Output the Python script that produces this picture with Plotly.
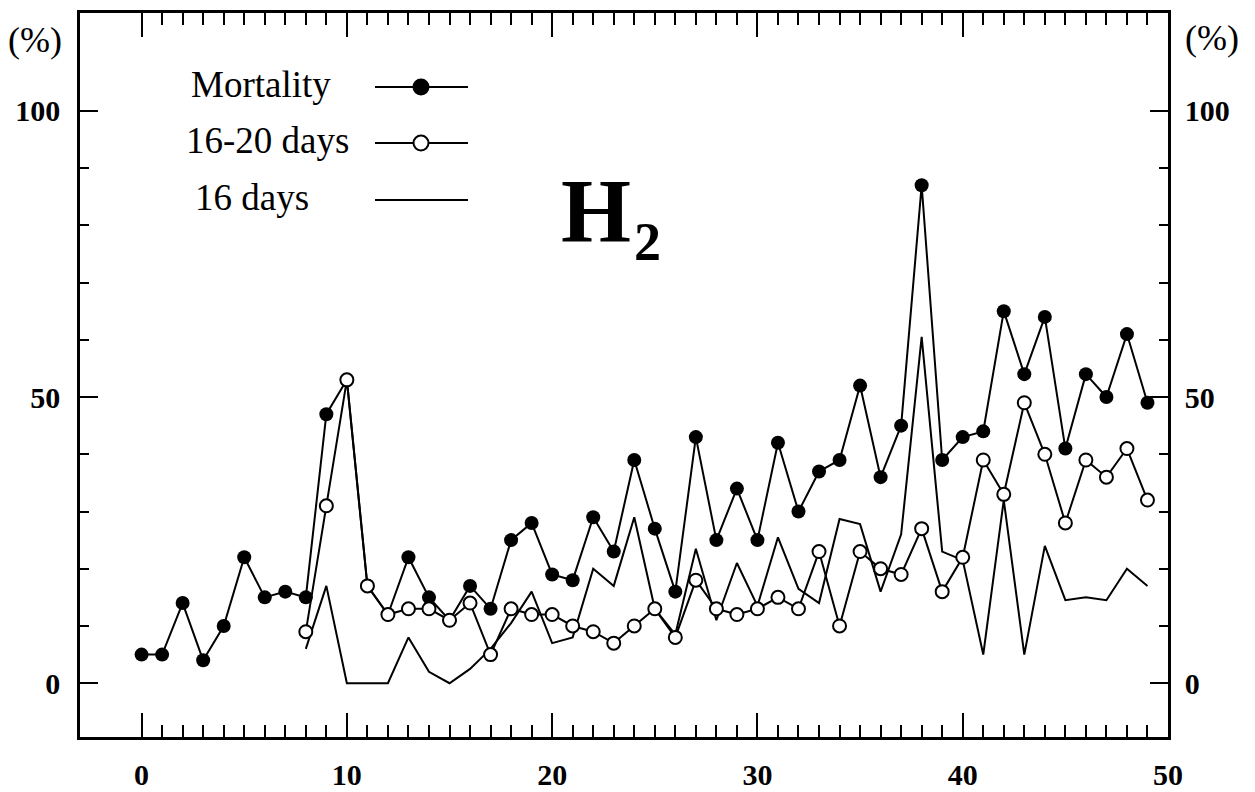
import plotly.graph_objects as go

# ---------------- data ----------------
days = list(range(0, 50))
mortality = [5, 5, 14, 4, 10, 22, 15, 16, 15, 47,
             53, 17, 12, 22, 15, 11, 17, 13, 25, 28,
             19, 18, 29, 23, 39, 27, 16, 43, 25, 34,
             25, 42, 30, 37, 39, 52, 36, 45, 87, 39,
             43, 44, 65, 54, 64, 41, 54, 50, 61, 49]

days_b = list(range(8, 50))
days_16_20 = [9, 31, 53, 17, 12, 13, 13, 11, 14, 5,
              13, 12, 12, 10, 9, 7, 10, 13, 8, 18,
              13, 12, 13, 15, 13, 23, 10, 23, 20, 19,
              27, 16, 22, 39, 33, 49, 40, 28, 39, 36,
              41, 32]
days_16 = [6, 17, 0, 0, 0, 8, 2, 0, 2.5, 6,
           10.5, 16, 7, 8, 20, 17, 29, 13, 8.5, 23.5,
           11, 21, 13.5, 25.5, 16.5, 14, 28.7, 27.8, 16, 26,
           60.5, 23, 21.5, 5, 32, 5, 24, 14.5, 15, 14.5,
           20, 17]

x_major = [0, 10, 20, 30, 40, 50]
x_minor = list(range(0, 51))
y_major = [0, 50, 100]
y_minor = [10, 20, 30, 40, 60, 70, 80, 90]
legend_names = ["Mortality", "16-20 days", "16 days"]

# ---------------- layout constants ----------------
# the page body adds an 8 px offset; the figure is sized so that it fills the window
OFF = 8
W, H = 1255 - OFF, 792 - OFF
# target frame on screen: left 80, right 1168, top 13, bottom 737
ML, MT = 80 - OFF, 13 - OFF
MR, MB = W - (1168 - OFF), H - (737 - OFF)
PW, PH = W - ML - MR, H - MT - MB
XR = [-3.0, 50.0]
YR = [-9.4, 117.1]
SERIF = "Liberation Serif, Times New Roman, serif"


def px(xs):
    """screen x pixel -> paper coordinate"""
    return (xs - OFF - ML) / PW


def py(ys):
    """screen y pixel -> paper coordinate"""
    return (H - MB - (ys - OFF)) / PH


fig = go.Figure()

fig.add_trace(go.Scatter(x=days_b, y=days_16, mode="lines",
                         line=dict(color="black", width=2),
                         showlegend=False, hoverinfo="skip"))
fig.add_trace(go.Scatter(x=days, y=mortality, mode="lines+markers",
                         line=dict(color="black", width=2),
                         marker=dict(symbol="circle", size=14, color="black"),
                         showlegend=False))
fig.add_trace(go.Scatter(x=days_b, y=days_16_20, mode="lines+markers",
                         line=dict(color="black", width=2),
                         marker=dict(symbol="circle", size=13, color="white",
                                     line=dict(color="black", width=2)),
                         showlegend=False))
# dummy trace to activate the top / right axes
fig.add_trace(go.Scatter(x=[None], y=[None], xaxis="x2", yaxis="y2",
                         showlegend=False, hoverinfo="skip"))

tickfont = dict(family=SERIF, size=30, color="black", weight="bold")

common_x = dict(range=XR, showgrid=False, zeroline=False, showline=True,
                linecolor="black", linewidth=2.5, ticks="inside",
                tickvals=x_major, ticklen=24, tickwidth=2, tickcolor="black",
                automargin=False,
                minor=dict(ticks="inside", tickmode="array", tickvals=x_minor,
                           ticklen=12, tickwidth=1.6, tickcolor="black",
                           showgrid=False))
common_y = dict(range=YR, showgrid=False, zeroline=False, showline=True,
                linecolor="black", linewidth=2.5, ticks="inside",
                tickvals=y_major, ticklen=18, tickwidth=2, tickcolor="black",
                automargin=False,
                minor=dict(ticks="inside", tickmode="array", tickvals=y_minor,
                           ticklen=9, tickwidth=1.6, tickcolor="black",
                           showgrid=False))

fig.update_layout(
    width=W, height=H,
    margin=dict(l=ML, r=MR, t=MT, b=MB, autoexpand=False),
    paper_bgcolor="white", plot_bgcolor="white",
    showlegend=False,
    xaxis=dict(**common_x, side="bottom", anchor="y", tickfont=tickfont,
               ticklabelstandoff=9),
    xaxis2=dict(**common_x, side="top", anchor="y", overlaying="x",
                showticklabels=False),
    yaxis=dict(**common_y, side="left", anchor="x", tickfont=tickfont,
               ticklabelstandoff=11),
    yaxis2=dict(**common_y, side="right", anchor="x", overlaying="y",
                tickfont=tickfont, ticklabelstandoff=8),
)

# (%) unit labels
for xs, ys in [(35, 40), (1212, 38)]:
    fig.add_annotation(x=px(xs), y=py(ys), xref="paper", yref="paper",
                       text="(%)", showarrow=False, xanchor="center",
                       yanchor="middle",
                       font=dict(family=SERIF, size=36, color="black"))

# H2 label
fig.add_annotation(x=px(559), y=py(211), xref="paper", yref="paper",
                   text="H", showarrow=False, xanchor="left", yanchor="middle",
                   font=dict(family=SERIF, size=90, color="black", weight="bold"))
fig.add_annotation(x=px(632), y=py(242), xref="paper", yref="paper",
                   text="2", showarrow=False, xanchor="left", yanchor="middle",
                   font=dict(family=SERIF, size=54, color="black", weight="bold"))

# custom legend: text left, sample right
leg_rows = [(189, 84), (184, 140), (193, 197)]
for name, (tx, ty) in zip(legend_names, leg_rows):
    fig.add_annotation(x=px(tx), y=py(ty), xref="paper", yref="paper",
                       text=name, showarrow=False, xanchor="left",
                       yanchor="middle",
                       font=dict(family=SERIF, size=37, color="black"))
    fig.add_shape(type="line", xref="paper", yref="paper",
                  x0=px(375), x1=px(468), y0=py(ty + 3), y1=py(ty + 3),
                  line=dict(color="black", width=2))

# legend markers
for i, fill in enumerate(["black", "white"]):
    cy = leg_rows[i][1] + 3
    fig.add_shape(type="circle", xref="paper", yref="paper",
                  xsizemode="pixel", ysizemode="pixel",
                  xanchor=px(421), yanchor=py(cy),
                  x0=-7.5, x1=7.5, y0=-7.5, y1=7.5,
                  fillcolor=fill, line=dict(color="black", width=2))

fig.write_html("out.html")
